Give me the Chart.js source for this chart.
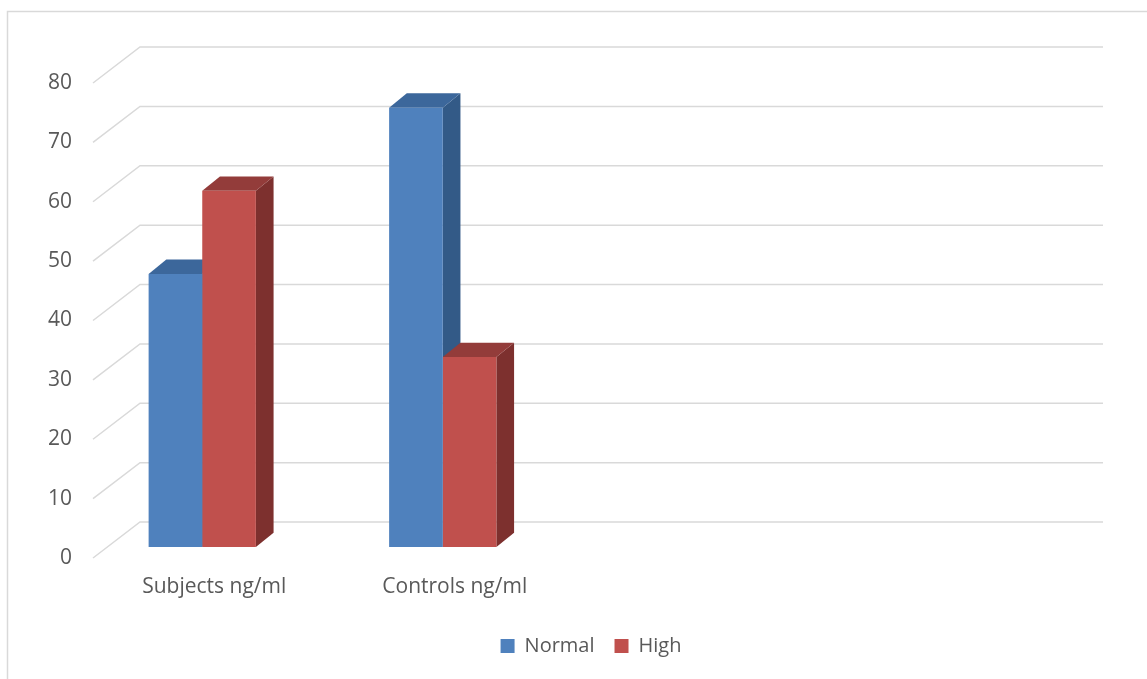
<!DOCTYPE html>
<html>
<head>
<meta charset="utf-8">
<script src="https://cdn.jsdelivr.net/npm/chart.js@4.4.0/dist/chart.umd.min.js"></script>
<style>
  html, body { margin: 0; padding: 0; background: #fff; }
</style>
</head>
<body>
<canvas id="chart" width="1147" height="679"></canvas>
<script>
(function () {
    'use strict';

    // data
    var categories = ['Subjects ng/ml', 'Controls ng/ml', '', ''];
    var normalValues = [46, 74, null, null];
    var highValues = [60, 32, null, null];
    var seriesNames = ['Normal', 'High'];
    var yMin = 0, yMax = 80, yStep = 10;

    var FONT = '"Open Sans", sans-serif';
    var TEXT = '#595959';
    var GRID = '#d9d9d9';

    // face colours: front, top, side
    var faces = [
        { front: '#4f81bd', top: '#3c679b', side: '#335a87' },
        { front: '#c0504d', top: '#933c3a', side: '#7d302e' }
    ];

    // oblique offsets relative to the bar plane
    var wallFront = { dx: 11, dy: 11 };
    var wallBack = { dx: 58, dy: -25 };
    var barDepth = { dx: 17.7, dy: -14.3 };

    var depthPlugin = {
        id: 'depth3d',
        beforeDraw: function (chart) {
            var ctx = chart.ctx;
            ctx.save();
            ctx.strokeStyle = GRID;
            ctx.lineWidth = 1.5;
            ctx.strokeRect(7.5, 11.5, 1300, 800);
            ctx.restore();
        },
        afterLayout: function (chart) {
            // legend sits a little right of the centre in the original
            chart.legend.left += 69;
            chart.legend.right += 69;
        },
        beforeDatasetsDraw: function (chart) {
            var ctx = chart.ctx;
            var a = chart.chartArea;
            var ys = chart.scales.y;
            ctx.save();
            ctx.strokeStyle = GRID;
            ctx.lineWidth = 1.5;
            ys.ticks.forEach(function (t, i) {
                var py = ys.getPixelForTick(i);
                ctx.beginPath();
                ctx.moveTo(a.left + wallFront.dx, py + wallFront.dy);
                ctx.lineTo(a.left + wallBack.dx, py + wallBack.dy);
                ctx.lineTo(a.right + wallBack.dx + 1, py + wallBack.dy);
                ctx.stroke();
            });

            // top and side faces, left bar first in each group
            for (var i = 0; i < categories.length; i++) {
                for (var j = 0; j < chart.data.datasets.length; j++) {
                    var v = chart.data.datasets[j].data[i];
                    var el = chart.getDatasetMeta(j).data[i];
                    if (v === null || v === undefined || !el) continue;
                    var p = el.getProps(['x', 'y', 'base', 'width'], true);
                    var L = p.x - p.width / 2, R = p.x + p.width / 2;
                    var T = p.y, B = p.base;
                    var dx = barDepth.dx, dy = barDepth.dy;

                    ctx.fillStyle = faces[j].side;
                    ctx.beginPath();
                    ctx.moveTo(R, T);
                    ctx.lineTo(R + dx, T + dy);
                    ctx.lineTo(R + dx, B + dy);
                    ctx.lineTo(R, B);
                    ctx.closePath();
                    ctx.fill();

                    ctx.fillStyle = faces[j].top;
                    ctx.beginPath();
                    ctx.moveTo(L, T);
                    ctx.lineTo(R, T);
                    ctx.lineTo(R + dx, T + dy);
                    ctx.lineTo(L + dx, T + dy);
                    ctx.closePath();
                    ctx.fill();
                }
            }
            ctx.restore();
        }
    };

    var ctx = document.getElementById('chart').getContext('2d');
    new Chart(ctx, {
        type: 'bar',
        data: {
            labels: categories,
            datasets: [{
                label: seriesNames[0],
                data: normalValues,
                backgroundColor: faces[0].front,
                borderWidth: 0,
                barPercentage: 1,
                categoryPercentage: 0.446
            }, {
                label: seriesNames[1],
                data: highValues,
                backgroundColor: faces[1].front,
                borderWidth: 0,
                barPercentage: 1,
                categoryPercentage: 0.446
            }]
        },
        options: {
            responsive: false,
            animation: false,
            devicePixelRatio: 1,
            layout: { padding: { left: 0, right: 103, top: 72, bottom: 13 } },
            plugins: {
                tooltip: { enabled: false },
                legend: {
                    position: 'bottom',
                    labels: {
                        boxWidth: 14,
                        boxHeight: 14,
                        padding: 20,
                        color: TEXT,
                        font: { family: FONT, size: 20 }
                    }
                }
            },
            scales: {
                x: {
                    grid: { display: false, drawTicks: false },
                    border: { display: false },
                    ticks: {
                        color: TEXT,
                        font: { family: FONT, size: 21 },
                        padding: 27,
                        labelOffset: 12,
                        maxRotation: 0,
                        autoSkip: false
                    },
                    afterFit: function (scale) { scale.height = 69; }
                },
                y: {
                    min: yMin,
                    max: yMax,
                    grid: { display: false, drawTicks: false },
                    border: { display: false },
                    ticks: {
                        stepSize: yStep,
                        color: TEXT,
                        font: { family: FONT, size: 21 },
                        padding: 10,
                        labelOffset: 11
                    },
                    afterFit: function (scale) { scale.width = 82; }
                }
            }
        },
        plugins: [depthPlugin]
    });
})();
</script>
</body>
</html>
